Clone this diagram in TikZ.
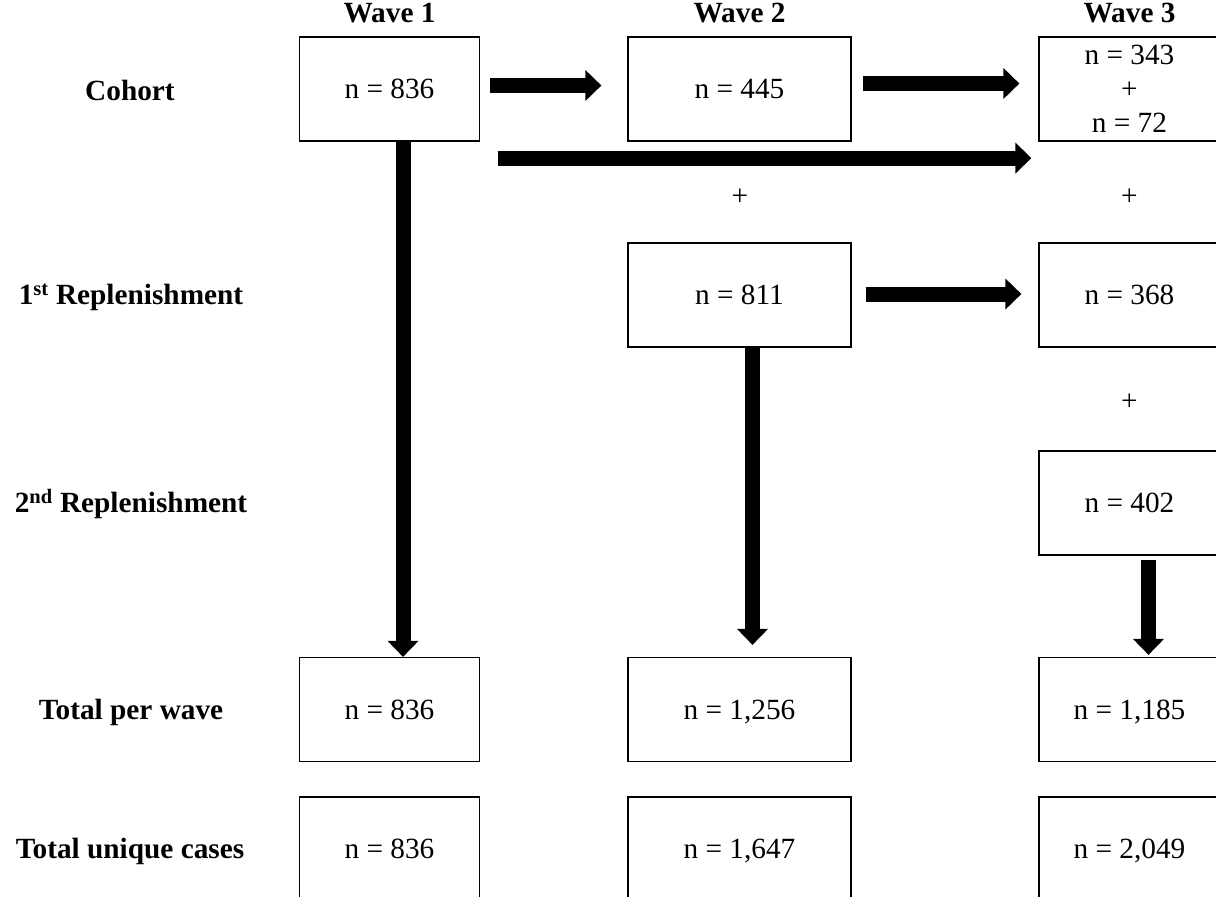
\documentclass[tikz,border=0pt]{standalone}
\usepackage{fontspec}
\setmainfont{Liberation Serif}
\usetikzlibrary{arrows.meta}

\begin{document}
\begin{tikzpicture}[x=1pt,y=-1pt,
  font=\fontsize{29.3}{34}\selectfont,
  box/.style={draw,line width=1.2pt,minimum height=104pt,inner sep=0pt,align=center},
  nbox/.style={box,text depth=0pt},
  col1/.style={nbox,minimum width=180pt},
  col2/.style={nbox,minimum width=223pt},
  col3/.style={nbox,minimum width=181pt},
  rowlabel/.style={font=\fontsize{29.3}{34}\selectfont\bfseries},
  fatarrow/.style={line width=15pt,-{Triangle[width=30pt,length=16pt]}}]

\useasboundingbox (0,0) rectangle (1216,897);
\clip (0,0) rectangle (1216,897);

% headings
\node[rowlabel] (w1) at (389.5,13) {Wave 1};
\node[rowlabel] (w2) at (739.5,13) {Wave 2};
\node[rowlabel] (w3) at (1129.5,13) {Wave 3};

% row labels
\node[rowlabel] (lcoh) at (130,90) {Cohort};
\node[rowlabel] (lrep1) at (131,297) {1\textsuperscript{st} Replenishment};
\node[rowlabel] (lrep2) at (131,504) {2\textsuperscript{nd} Replenishment};
\node[rowlabel] (ltot) at (131,712) {Total per wave};
\node[rowlabel] (luni) at (130,851) {Total unique cases};

% boxes
\node[col1] (c1) at (389.5,89) {n = 836};
\node[col2] (c2) at (739.5,89) {n = 445};
\node[box,minimum width=181pt] (c3) at (1129.5,89) {n = 343\\+\\n = 72};
\node[col2] (r2) at (739.5,295) {n = 811};
\node[col3] (r3) at (1129.5,295) {n = 368};
\node[col3] (s3) at (1129.5,503) {n = 402};
\node[col1] (t1) at (389.5,709.5) {n = 836};
\node[col2] (t2) at (739.5,709.5) {n = 1,256};
\node[col3] (t3) at (1129.5,709.5) {n = 1,185};
\node[col1] (u1) at (389.5,849) {n = 836};
\node[col2] (u2) at (739.5,849) {n = 1,647};
\node[col3] (u3) at (1129.5,849) {n = 2,049};

% plus signs
\node (p1) at (740,197) {+};
\node (p2) at (1129.5,197) {+};
\node (p3) at (1129.5,402) {+};

% arrows
\draw[fatarrow] ([xshift=10pt,yshift=3.5pt]c1.east) -- ([xshift=-26pt,yshift=3.5pt]c2.west);
\draw[fatarrow] ([xshift=11pt,yshift=5.5pt]c2.east) -- ([xshift=-19pt,yshift=5.5pt]c3.west);
\draw[fatarrow] ([xshift=17.5pt,yshift=-16.5pt]c1.south east) -- ([xshift=-7pt,yshift=-16.5pt]c3.south west);
\draw[fatarrow] ([xshift=14pt,yshift=1pt]r2.east) -- ([xshift=-17pt,yshift=1pt]r3.west);
\draw[fatarrow] ([xshift=13.5pt]c1.south) -- ([xshift=13.5pt]t1.north);
\draw[fatarrow] ([xshift=13pt]r2.south) -- ([xshift=13pt,yshift=12pt]t2.north);
\draw[fatarrow] ([xshift=19pt,yshift=-4pt]s3.south) -- ([xshift=19pt,yshift=2pt]t3.north);

\end{tikzpicture}
\end{document}
